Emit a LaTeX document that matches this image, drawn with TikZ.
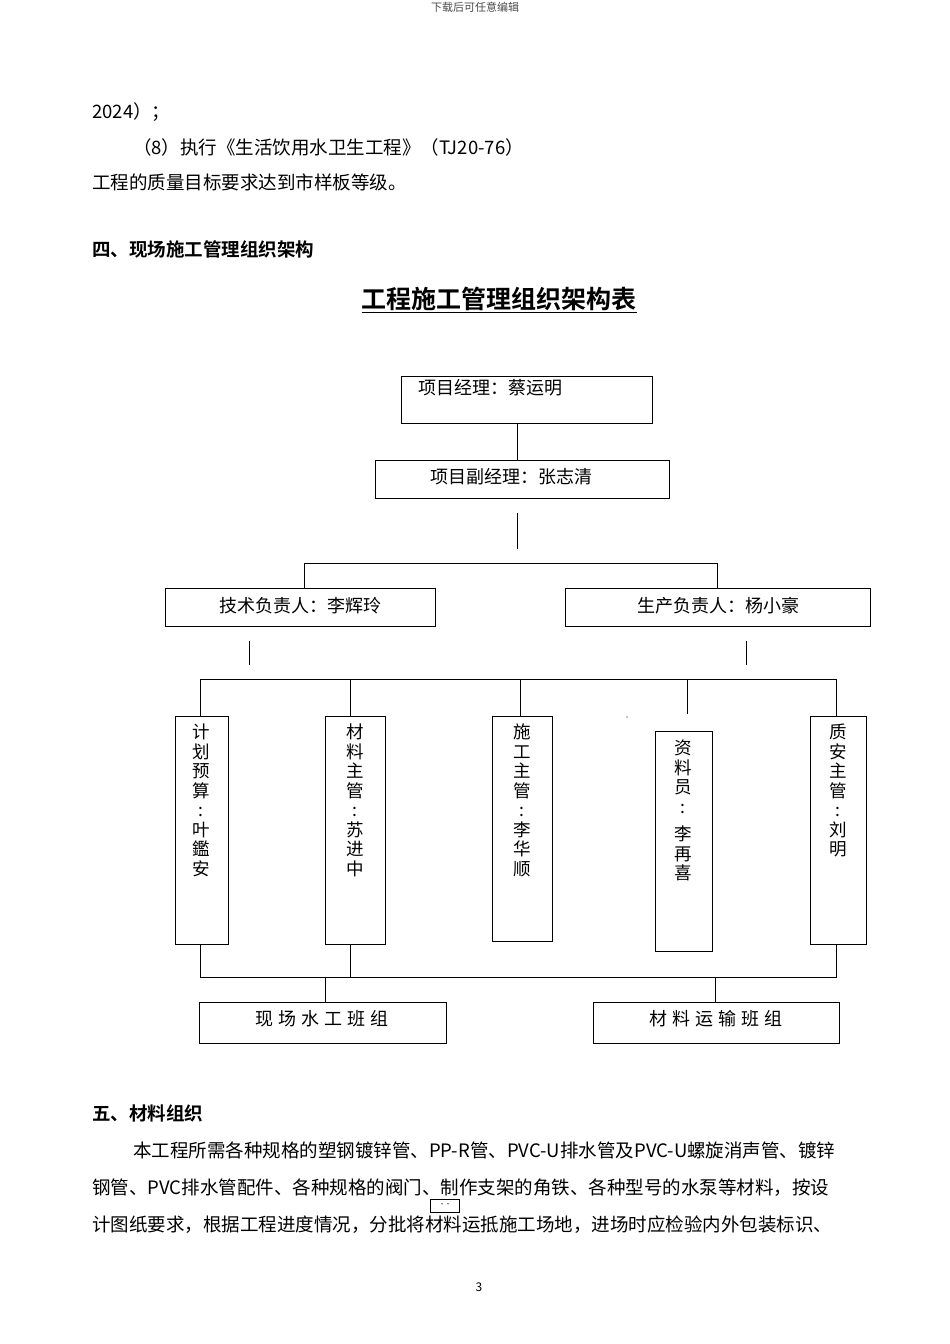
\documentclass[tikz,border=0pt]{standalone}
\usepackage{fontspec}
\setmainfont{Noto Sans CJK SC}
\newfontfamily\cjkb{Noto Sans CJK SC Bold}
\begin{document}
\begin{tikzpicture}[x=1pt,y=-1pt,
  every node/.style={inner sep=0pt,font=\fontsize{18}{18}\selectfont},
  body/.style={anchor=west,font=\fontsize{18.5}{19}\selectfont},
  bx/.style={draw,line width=0.9pt},
  ln/.style={line width=0.9pt},
  vt/.style={align=center,anchor=north,font=\fontsize{17.5}{19.5}\selectfont}]
\useasboundingbox[fill=white] (0,0) rectangle (950,1344);
\node[font=\fontsize{11}{11}\selectfont,text=black!70] (hdr) at (475,7) {下载后可任意编辑};
\node[body] (t1) at (92,112) {2024）；};
\node[body] (t2) at (133,147) {（8）执行《生活饮用水卫生工程》（TJ20-76）};
\node[body] (t3) at (92,182) {工程的质量目标要求达到市样板等级。};
\node[body,font=\fontsize{18.5}{19}\cjkb] (h4) at (92,249) {四、现场施工管理组织架构};
\node[font=\fontsize{25}{25}\cjkb] (ttl) at (499,300) {\underline{工程施工管理组织架构表}};
% boxes
\draw[bx] (401,376) rectangle (652,423);
\node[anchor=west] (pm) at (418,388) {项目经理：蔡运明};
\coordinate (pmb) at (517,423);
\draw[bx] (375,460) rectangle (669,498);
\node (dpm) at (511,477) {项目副经理：张志清};
\coordinate (dpmt) at (517,460);
\draw[ln] (pmb) -- (dpmt);
\draw[ln] (517,513) -- (517,549);
\draw[ln] (304,588) -- (304,563) -- (717,563) -- (717,588);
\draw[bx] (165,588) rectangle (435,626);
\node (tech) at (300,606) {技术负责人：李辉玲};
\draw[bx] (565,588) rectangle (870,626);
\node (prod) at (718,606) {生产负责人：杨小豪};
\draw[ln] (249,641) -- (249,665);
\draw[ln] (746,641) -- (746,665);
\draw[ln] (200,679) -- (836,679);
\foreach \x/\y in {200/716,350/716,520/716,687/714,836/716} \draw[ln] (\x,679) -- (\x,\y);
\fill (627,717) circle (0.6);
\draw[bx] (175,716) rectangle (228,944);
\node[vt] (a) at (201,724) {计\\划\\预\\算\\:\\叶\\鑑\\安};
\draw[bx] (325,716) rectangle (385,944);
\node[vt] (b) at (355,724) {材\\料\\主\\管\\:\\苏\\进\\中};
\draw[bx] (492,716) rectangle (552,941);
\node[vt] (c) at (522,724) {施\\工\\主\\管\\:\\李\\华\\顺};
\draw[bx] (655,731) rectangle (712,951);
\node[vt] (d) at (683,740) {资\\料\\员\\:\\[8pt]李\\再\\喜};
\draw[bx] (810,716) rectangle (866,944);
\node[vt] (e) at (838,724) {质\\安\\主\\管\\:\\刘\\明};
\draw[ln] (200,944) -- (200,977) -- (836,977) -- (836,944);
\draw[ln] (350,944) -- (350,977);
\draw[ln] (325,977) -- (325,1002);
\draw[ln] (715,977) -- (715,1002);
\draw[bx] (199,1002) rectangle (446,1043);
\node (g1) at (322,1019) {现\kern5pt场\kern5pt水\kern5pt工\kern5pt班\kern5pt组};
\draw[bx] (593,1002) rectangle (839,1043);
\node (g2) at (716,1019) {材\kern5pt料\kern5pt运\kern5pt输\kern5pt班\kern5pt组};
\node[body,font=\fontsize{18.5}{19}\cjkb] (h5) at (92,1113) {五、材料组织};
\node[body] (p1) at (133,1150) {本工程所需各种规格的塑钢镀锌管、PP-R管、PVC-U排水管及PVC-U螺旋消声管、镀锌};
\node[body] (p2) at (92,1188) {钢管、PVC排水管配件、各种规格的阀门、制作支架的角铁、各种型号的水泵等材料，按设};
\node[body] (p3) at (92,1225) {计图纸要求，根据工程进度情况，分批将材料运抵施工场地，进场时应检验内外包装标识、};
\draw[line width=0.6pt] (430,1199) rectangle (459,1212);
\node[font=\fontsize{6}{6}\selectfont] (dots) at (445,1205) {··};
\node[font=\fontsize{12}{12}\selectfont] (pg) at (479,1287) {3};
\end{tikzpicture}
\end{document}
